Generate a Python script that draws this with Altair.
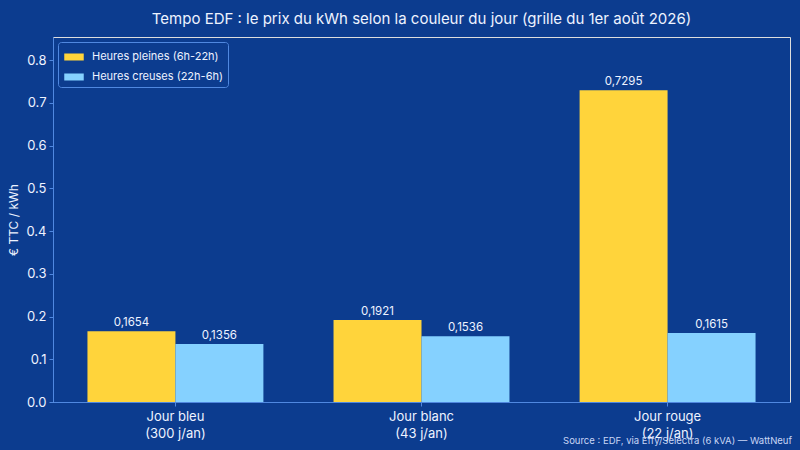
import altair as alt
import pandas as pd

categories = ["Jour bleu\n(300 j/an)", "Jour blanc\n(43 j/an)", "Jour rouge\n(22 j/an)"]
series = ["Heures pleines (6h-22h)", "Heures creuses (22h-6h)"]
hp_values = [0.1654, 0.1921, 0.7295]
hc_values = [0.1356, 0.1536, 0.1615]
y_ticks = [0.0, 0.1, 0.2, 0.3, 0.4, 0.5, 0.6, 0.7, 0.8]
title_text = "Tempo EDF : le prix du kWh selon la couleur du jour (grille du 1er août 2026)"
source_text = "Source : EDF, via Effy/Selectra (6 kVA) — WattNeuf"

BG = "#0c3c8f"
SPINE = "#5088e0"
FG = "#eef3ff"
FONT = "Inter"

rows = []
for c, hp, hc in zip(categories, hp_values, hc_values):
    rows.append({"cat": c, "serie": series[0], "val": hp, "lab": f"{hp:.4f}".replace(".", ",")})
    rows.append({"cat": c, "serie": series[1], "val": hc, "lab": f"{hc:.4f}".replace(".", ",")})
df = pd.DataFrame(rows)

W, H = 737, 365

x = alt.X("cat:N", sort=categories, title=None,
          scale=alt.Scale(paddingInner=0.285, paddingOuter=0.14),
          axis=alt.Axis(labelExpr="split(datum.label, '\\n')", labelAngle=0,
                        labelFontSize=13, labelColor=FG, labelPadding=4,
                        tickColor=SPINE, tickSize=4, domainColor=SPINE,
                        labelLineHeight=17, labelBaseline="top"))
xo = alt.XOffset("serie:N", sort=series, scale=alt.Scale(paddingInner=0, paddingOuter=0))
y = alt.Y("val:Q", title="€ TTC / kWh",
          scale=alt.Scale(domain=[0, 0.854], nice=False, zero=True),
          axis=alt.Axis(values=y_ticks, format=".1f", grid=False,
                        labelFontSize=13, labelColor=FG, labelPadding=3,
                        tickColor=SPINE, tickSize=4, domainColor=SPINE,
                        titleColor=FG, titleFontSize=12, titleFontWeight="normal",
                        titlePadding=5))

color = alt.Color("serie:N", sort=series,
                  scale=alt.Scale(domain=series, range=["#ffd43b", "#85d1ff"]),
                  legend=alt.Legend(title=None, orient="top-left", offset=5,
                                    symbolType="M-1,-0.36H1V0.36H-1Z", symbolSize=380,
                                    symbolStrokeWidth=0, symbolOpacity=1,
                                    labelFontSize=11, labelColor=FG, labelFont=FONT,
                                    strokeColor=SPINE, fillColor=BG, cornerRadius=3,
                                    padding=5, rowPadding=5, symbolOffset=1,
                                    labelOffset=8))

bars = alt.Chart(df).mark_bar().encode(x=x, xOffset=xo, y=y, color=color)
labels = alt.Chart(df).mark_text(dy=-8, fontSize=11.5, color=FG, font=FONT).encode(
    x=alt.X("cat:N", sort=categories), xOffset=xo, y="val:Q", text="lab:N")

src = alt.Chart(pd.DataFrame({"t": [source_text]})).mark_text(
    align="right", baseline="middle", fontSize=9.5, color="#c9d6f5", font=FONT
).encode(x=alt.value(W + 2), y=alt.value(H + 39), text="t:N")

chart = alt.layer(bars, labels, src).properties(
    width=W, height=H,
    background=BG,
    padding={"left": 53, "top": 37, "right": 10, "bottom": 48},
    autosize=alt.AutoSizeParams(type="none"),
    title=alt.Title(title_text, fontSize=15, color=FG, font=FONT,
                    fontWeight="normal", anchor="middle", offset=10),
).configure_view(stroke=SPINE, strokeWidth=1.2).configure(font=FONT)

chart.save("out.html", embed_options={"renderer": "svg", "actions": False})
